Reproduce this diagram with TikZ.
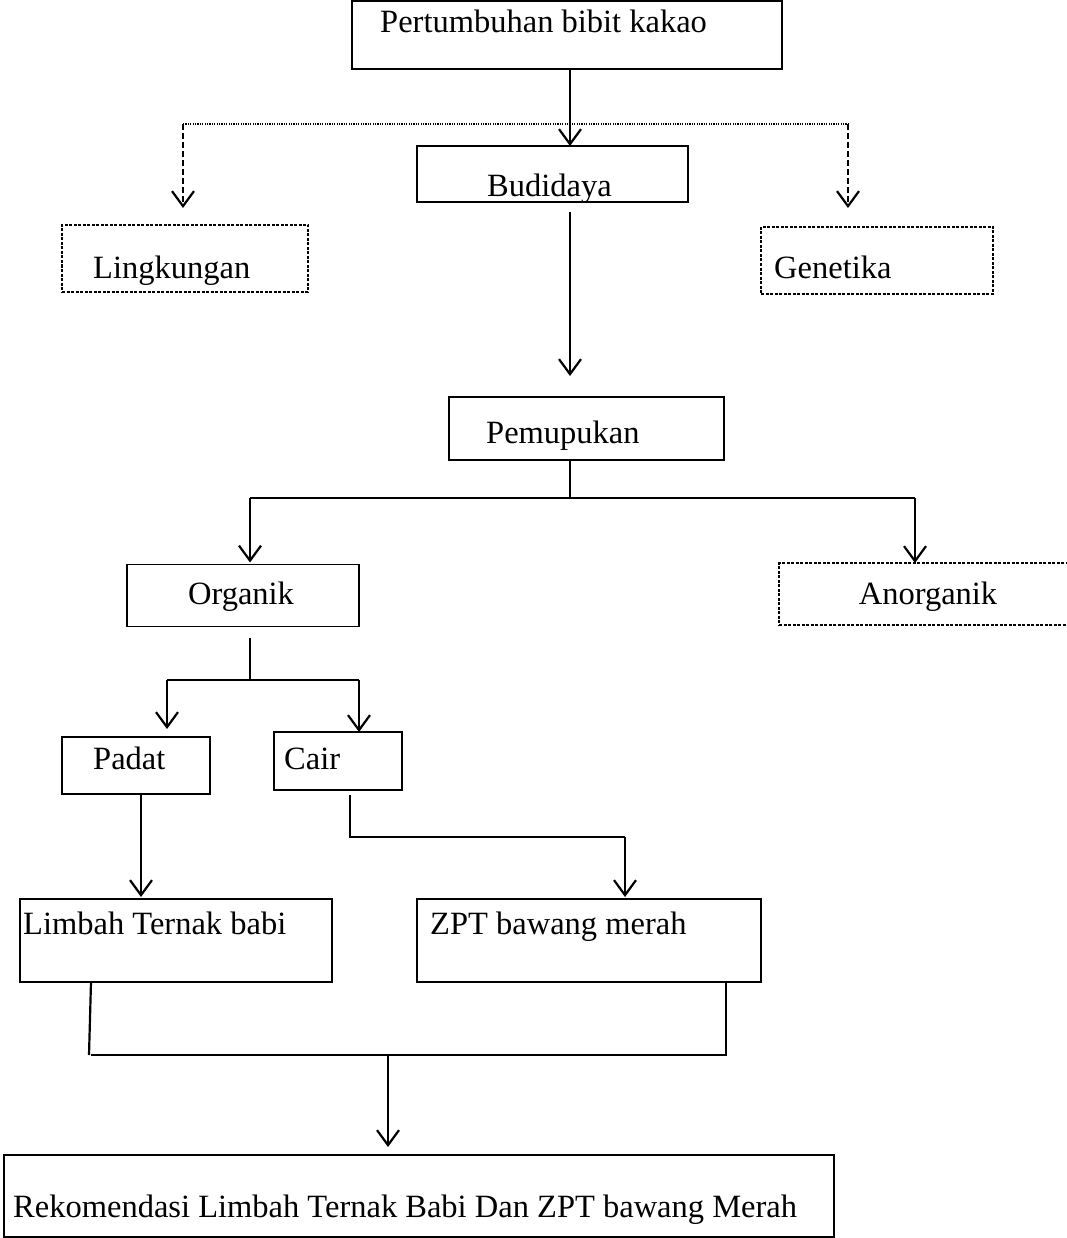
\documentclass[tikz,border=0pt]{standalone}
\usepackage{fontspec}
\setmainfont{Liberation Serif}
\usetikzlibrary{arrows.meta}
\begin{document}
\begin{tikzpicture}[x=1pt,y=-1pt,
  bx/.style={draw, line width=1.4pt, rectangle, inner sep=0pt, outer sep=0pt},
  dbx/.style={bx, line width=1.1pt, dash pattern=on 3pt off 1.5pt},
  lbl/.style={anchor=base west, inner sep=0pt, font=\fontsize{32.5}{38}\selectfont},
  arr/.style={line width=2.5pt, -{Straight Barb[length=15pt,width=22pt,line width=2.2pt]}},
  ln/.style={line width=2.2pt},
  dsh/.style={dash pattern=on 6pt off 3pt},
]
\useasboundingbox (0,0) rectangle (1066,1238);

% boxes
\node[bx,minimum width=430pt,minimum height=68pt] (pb) at (567,35) {};
\node[lbl] (pbt) at (380,33) {Pertumbuhan bibit kakao};
\node[bx,minimum width=271pt,minimum height=56pt] (bd) at (552.5,174) {};
\node[lbl] (bdt) at (487,197) {Budidaya};
\node[dbx,minimum width=246pt,minimum height=67pt] (lk) at (185,258.5) {};
\node[lbl] (lkt) at (93,279) {Lingkungan};
\node[dbx,minimum width=232pt,minimum height=67pt] (gn) at (877,260.5) {};
\node[lbl] (gnt) at (774,279) {Genetika};
\node[bx,minimum width=275pt,minimum height=63pt] (pm) at (586.5,428.5) {};
\node[lbl] (pmt) at (486,443) {Pemupukan};
\node[bx,minimum width=232pt,minimum height=62pt] (og) at (243,595.5) {};
\node[lbl,anchor=base] (ogt) at (241,604) {Organik};
\node[dbx,minimum width=296pt,minimum height=62pt] (ao) at (927,594) {};
\node[lbl,anchor=base] (aot) at (928,604) {Anorganik};
\node[bx,minimum width=148pt,minimum height=57pt] (pd) at (136,765.5) {};
\node[lbl] (pdt) at (93,769) {Padat};
\node[bx,minimum width=128pt,minimum height=58pt] (cr) at (338,761) {};
\node[lbl] (crt) at (284,769) {Cair};
\node[bx,minimum width=312pt,minimum height=83pt] (lb) at (176,940.5) {};
\node[lbl] (lbt) at (23,934) {Limbah Ternak babi};
\node[bx,minimum width=344pt,minimum height=83pt] (zp) at (589,940.5) {};
\node[lbl] (zpt) at (430,934) {ZPT bawang merah};
\node[bx,minimum width=830pt,minimum height=82pt] (rk) at (419,1196) {};
\node[lbl] (rkt) at (13,1217) {Rekomendasi Limbah Ternak Babi Dan ZPT bawang Merah};

% junction coordinates
\coordinate (cx) at (570,0);
\coordinate (dl) at (183,124);
\coordinate (dr) at (848,124);
\coordinate (j1) at (570,498);
\coordinate (jl) at (250,498);
\coordinate (jr) at (915,498);
\coordinate (j2) at (250,680);
\coordinate (j2l) at (167,680);
\coordinate (j2r) at (359,680);
\coordinate (pdx) at (141,0);
\coordinate (j3) at (350,837);
\coordinate (j3r) at (625,837);
\coordinate (j4l) at (89,1055);
\coordinate (j4r) at (726,1055);
\coordinate (j4) at (388,1055);

% connectors
\draw[arr] (pb.south -| cx) -- (bd.north -| cx);
\draw[line width=1.2pt, dash pattern=on 1.2pt off 1.2pt] (dl) -- (dr);
\draw[arr, dsh, shorten >=17pt] (dl) -- (lk.north -| dl);
\draw[arr, dsh, shorten >=19pt] (dr) -- (gn.north -| dr);
\draw[arr, shorten <=10pt, shorten >=21pt] (bd.south -| cx) -- (pm.north -| cx);
\draw[line width=1.6pt] (pm.south -| cx) -- (j1);
\draw[ln] (jl) -- (jr);
\draw[arr, shorten >=2pt] (jl) -- (og.north -| jl);
\draw[arr] (jr) -- (ao.north -| jr);
\draw[ln, shorten <=11pt] (og.south -| j2) -- (j2);
\draw[ln] (j2l) -- (j2r);
\draw[arr, shorten >=8pt] (j2l) -- (pd.north -| j2l);
\draw[arr] (j2r) -- (cr.north -| j2r);
\draw[arr, shorten >=2pt] (pd.south -| pdx) -- (lb.north -| pdx);
\draw[ln, shorten <=5pt] (cr.south -| j3) -- (j3) -- (j3r);
\draw[arr, shorten >=2pt] (j3r) -- (zp.north -| j3r);
\draw[ln] ([xshift=-85pt]lb.south) -- (j4l);
\draw[ln] ([xshift=2pt]j4l) -- (j4r) -- (zp.south -| j4r);
\draw[arr, shorten >=8pt] (j4) -- (rk.north -| j4);
\end{tikzpicture}
\end{document}
